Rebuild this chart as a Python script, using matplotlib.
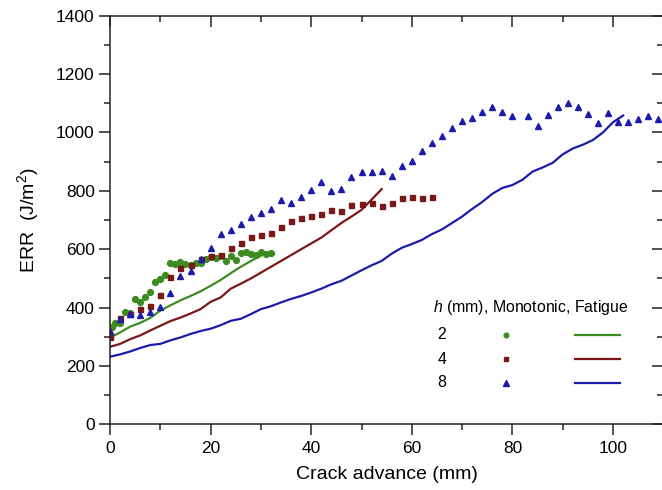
import matplotlib
matplotlib.use("Agg")
import matplotlib.pyplot as plt
from matplotlib.ticker import MultipleLocator

plt.rcParams['font.family'] = ['Liberation Sans', 'DejaVu Sans']
plt.rcParams['mathtext.fontset'] = 'custom'
plt.rcParams['mathtext.rm'] = 'Liberation Sans'
plt.rcParams['mathtext.it'] = 'Liberation Sans:italic'

# monotonic tests (markers)
mono2_x = [0.3, 1, 2, 3, 4, 5, 6, 7, 8, 9, 10, 11, 12, 13, 14, 15, 16, 17, 18, 19, 20,
           21, 22, 23, 24, 25, 26, 27, 28, 29, 30, 31, 32]
mono2_y = [335, 349, 349, 386, 381, 429, 420, 438, 455, 489, 497, 512, 554, 550, 556, 548,
           545, 553, 552, 565, 575, 571, 577, 561, 577, 563, 588, 591, 584, 580, 592, 585, 587]

mono4_x = [0, 2, 4, 6, 8, 10, 12, 14, 16, 18, 20, 22, 24, 26, 28, 30, 32, 34, 36, 38, 40,
           42, 44, 46, 48, 50, 52, 54, 56, 58, 60, 62, 64]
mono4_y = [300, 364, 378, 395, 406, 443, 506, 535, 545, 568, 576, 581, 603, 620, 641, 650,
           655, 677, 697, 706, 714, 720, 735, 732, 752, 755, 758, 748, 760, 775, 780, 777, 778]

mono8_x = [0, 2, 4, 6, 8, 10, 12, 14, 16, 18, 20, 22, 24, 26, 28, 30, 32, 34, 36, 38, 40,
           42, 44, 46, 48, 50, 52, 54, 56, 58, 60, 62, 64, 66, 68, 70, 72, 74, 76, 78, 80,
           83, 85, 87, 89, 91, 93, 95, 97, 99, 101, 103, 105, 107, 109]
mono8_y = [321, 360, 378, 375, 386, 403, 449, 508, 526, 568, 603, 652, 666, 687, 712, 725,
           738, 769, 760, 779, 803, 829, 800, 806, 849, 864, 864, 869, 852, 885, 901, 937,
           965, 988, 1014, 1038, 1049, 1071, 1086, 1071, 1057, 1057, 1022, 1060, 1088, 1100,
           1088, 1062, 1031, 1068, 1037, 1037, 1046, 1058, 1046]

# fatigue tests (lines)
fat2_x = [0, 2, 4, 6, 8, 10, 12, 14, 16, 18, 20, 22, 24, 26, 28, 30, 32]
fat2_y = [298, 315, 335, 348, 365, 390, 408, 425, 440, 456, 475, 495, 518, 540, 560, 578, 590]

fat4_x = [0, 2, 4, 6, 8, 10, 12, 14, 16, 18, 20, 22, 24, 26, 28, 30, 32, 34, 36, 38, 40,
          42, 44, 46, 48, 50, 52, 54]
fat4_y = [266, 276, 292, 305, 322, 338, 354, 366, 380, 395, 420, 435, 465, 482, 500, 520,
          540, 560, 580, 600, 620, 640, 665, 690, 712, 735, 770, 806]

fat8_x = [0, 2, 4, 6, 8, 10, 12, 14, 16, 18, 20, 22, 24, 26, 28, 30, 32, 34, 36, 38, 40,
          42, 44, 46, 48, 50, 52, 54, 56, 58, 60, 62, 64, 66, 68, 70, 72, 74, 76, 78, 80,
          82, 84, 86, 88, 90, 92, 94, 96, 98, 100, 102]
fat8_y = [232, 240, 250, 262, 272, 276, 288, 298, 310, 320, 328, 340, 355, 362, 378, 395,
          405, 418, 430, 440, 452, 465, 480, 492, 510, 528, 545, 560, 585, 605, 618, 632,
          652, 668, 690, 712, 738, 762, 790, 810, 820, 838, 866, 880, 896, 925, 945, 958,
          974, 1000, 1035, 1058]

h_labels = ['2', '4', '8']
colors = ['#3c8c22', '#7a1818', '#1c1caa']
markers = ['o', 's', '^']
msizes = [4.2, 3.6, 5]

rect = [0.1662, 0.1337, 0.8358, 0.8344]
fig = plt.figure(figsize=(6.62, 4.9), dpi=100)
ax = fig.add_axes(rect)

monos = [(mono2_x, mono2_y), (mono4_x, mono4_y), (mono8_x, mono8_y)]
fats = [(fat2_x, fat2_y), (fat4_x, fat4_y), (fat8_x, fat8_y)]
for (mx, my), (fx, fy), c, m, ms in zip(monos, fats, colors, markers, msizes):
    ax.plot(fx, fy, color=c, lw=1.6)
    ax.plot(mx, my, ls='none', marker=m, ms=ms, color=c, mec=c)

# second, empty axes on top carries the inward ticks of the top and right sides
ax2 = fig.add_axes(rect, frameon=False)
ax2.patch.set_visible(False)

for a in (ax, ax2):
    a.set_xlim(0, 110)
    a.set_ylim(0, 1400)
    a.xaxis.set_major_locator(MultipleLocator(20))
    a.xaxis.set_minor_locator(MultipleLocator(10))
    a.yaxis.set_major_locator(MultipleLocator(200))
    a.yaxis.set_minor_locator(MultipleLocator(100))
    a.tick_params(which='both', labelsize=12.5, width=1.1, color='#222222')
    a.tick_params(which='major', length=8)
    a.tick_params(which='minor', length=4.5)

ax.tick_params(which='both', direction='out', top=False, right=False)
ax.tick_params(axis='x', pad=4)
ax.tick_params(axis='y', pad=3)
ax2.tick_params(which='both', direction='in', bottom=False, left=False, top=True, right=True,
                labelbottom=False, labelleft=False)
for s in ax.spines.values():
    s.set_linewidth(1.1)
    s.set_color('#222222')

ax.set_xlabel('Crack advance (mm)', fontsize=14, labelpad=7)
ax.set_ylabel('ERR  (J/m$^2$)', fontsize=14, labelpad=11)

# legend as a small table
ax.text(0.584, 0.285, r'$\it{h}$ (mm), Monotonic, Fatigue', transform=ax.transAxes,
        fontsize=11.4, ha='left', va='center')
rows_y = [0.219, 0.160, 0.1015]
for lab, ry, c, m, ms in zip(h_labels, rows_y, colors, markers, msizes):
    ax.text(0.600, ry, lab, transform=ax.transAxes, fontsize=11.4, ha='center', va='center')
    ax.plot([0.716], [ry], transform=ax.transAxes, marker=m, ms=ms * 0.8, color=c, ls='none')
    ax.plot([0.840, 0.922], [ry, ry], transform=ax.transAxes, color=c, lw=1.6)

fig.savefig('out.png', dpi=100, facecolor='white')
